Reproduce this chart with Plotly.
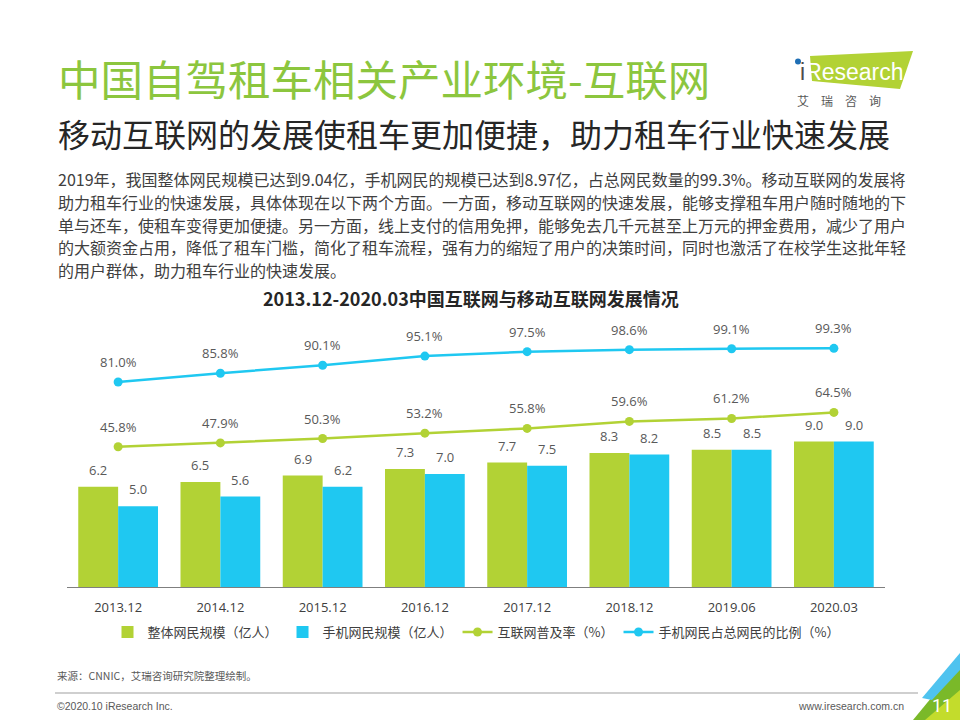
import plotly.graph_objects as go

# ---------------- data ----------------
categories = ["2013.12", "2014.12", "2015.12", "2016.12", "2017.12", "2018.12", "2019.06", "2020.03"]
netizens = [6.2, 6.5, 6.9, 7.3, 7.7, 8.3, 8.5, 9.0]          # 整体网民规模（亿人）
mobile_netizens = [5.0, 5.6, 6.2, 7.0, 7.5, 8.2, 8.5, 9.0]   # 手机网民规模（亿人）
penetration = [45.8, 47.9, 50.3, 53.2, 55.8, 59.6, 61.2, 64.5]   # 互联网普及率（%）
mobile_share = [81.0, 85.8, 90.1, 95.1, 97.5, 98.6, 99.1, 99.3]  # 手机网民占总网民的比例（%）

series_names = ["整体网民规模（亿人）", "手机网民规模（亿人）", "互联网普及率（%）", "手机网民占总网民的比例（%）"]

title = "中国自驾租车相关产业环境-互联网"
subtitle = "移动互联网的发展使租车更加便捷，助力租车行业快速发展"
body_lines = [
    "2019年，我国整体网民规模已达到9.04亿，手机网民的规模已达到8.97亿，占总网民数量的99.3%。移动互联网的发展将",
    "助力租车行业的快速发展，具体体现在以下两个方面。一方面，移动互联网的快速发展，能够支撑租车用户随时随地的下",
    "单与还车，使租车变得更加便捷。另一方面，线上支付的信用免押，能够免去几千元甚至上万元的押金费用，减少了用户",
    "的大额资金占用，降低了租车门槛，简化了租车流程，强有力的缩短了用户的决策时间，同时也激活了在校学生这批年轻",
    "的用户群体，助力租车行业的快速发展。",
]
chart_title = "2013.12-2020.03中国互联网与移动互联网发展情况"
source_text = "来源：CNNIC，艾瑞咨询研究院整理绘制。"
footer_left = "©2020.10 iResearch Inc."
footer_right = "www.iresearch.com.cn"
page_no = "11"

# ---------------- style ----------------
GREEN = "#b2d235"
BLUE = "#1fc8f1"
TITLE_GREEN = "#8cc63e"
LABEL = "#595959"
FONT = "Open Sans, Noto Sans CJK SC, sans-serif"
CJK = "Noto Sans CJK SC, sans-serif"

W, H = 960, 720
L, R, T, B = 67, 885, 325, 587  # plot area in pixels


def px(x):
    return (x - L) / (R - L)


def py(y):
    return (B - y) / (B - T)


fig = go.Figure()
fig.add_trace(go.Bar(x=categories, y=netizens, name=series_names[0], marker_color=GREEN,
                     marker_line_width=0))
fig.add_trace(go.Bar(x=categories, y=mobile_netizens, name=series_names[1], marker_color=BLUE,
                     marker_line_width=0))
fig.add_trace(go.Scatter(x=categories, y=penetration, name=series_names[2], yaxis="y2",
                         mode="lines+markers", line=dict(color=GREEN, width=2.5),
                         marker=dict(size=9, color=GREEN)))
fig.add_trace(go.Scatter(x=categories, y=mobile_share, name=series_names[3], yaxis="y2",
                         mode="lines+markers", line=dict(color=BLUE, width=2.5),
                         marker=dict(size=9, color=BLUE)))

ann = []
for i, v in enumerate(netizens):
    ann.append(dict(x=i, y=v, xref="x", yref="y", text=f"{v:.1f}", showarrow=False,
                    xshift=-20, yshift=17, font=dict(size=13, color=LABEL, family=FONT)))
for i, v in enumerate(mobile_netizens):
    ann.append(dict(x=i, y=v, xref="x", yref="y", text=f"{v:.1f}", showarrow=False,
                    xshift=20, yshift=17, font=dict(size=13, color=LABEL, family=FONT)))
for i, v in enumerate(penetration):
    ann.append(dict(x=i, y=v, xref="x", yref="y2", text=f"{v:.1f}%", showarrow=False,
                    yshift=20, font=dict(size=13, color=LABEL, family=FONT)))
for i, v in enumerate(mobile_share):
    ann.append(dict(x=i, y=v, xref="x", yref="y2", text=f"{v:.1f}%", showarrow=False,
                    yshift=20, font=dict(size=13, color=LABEL, family=FONT)))

# page texts
ann.append(dict(x=px(56), y=py(78), xref="paper", yref="paper", text=title, showarrow=False,
                xanchor="left", yanchor="middle", font=dict(size=42.5, color=TITLE_GREEN, family=CJK)))
ann.append(dict(x=px(56), y=py(133), xref="paper", yref="paper", text=subtitle, showarrow=False,
                xanchor="left", yanchor="middle", font=dict(size=32, color="#262626", family=CJK)))
for i, line in enumerate(body_lines):
    ann.append(dict(x=px(56), y=py(179 + i * 22.8), xref="paper", yref="paper", text=line,
                    showarrow=False, xanchor="left", yanchor="middle",
                    font=dict(size=16, color="#404040", family=CJK)))
ann.append(dict(x=px(471), y=py(298), xref="paper", yref="paper", text=f"<b>{chart_title}</b>",
                showarrow=False, xanchor="center", yanchor="middle",
                font=dict(size=18, color="#262626", family=CJK)))
ann.append(dict(x=px(55), y=py(675), xref="paper", yref="paper", text=source_text, showarrow=False,
                xanchor="left", yanchor="middle", font=dict(size=10.5, color="#595959", family=CJK)))
ann.append(dict(x=px(55), y=py(706), xref="paper", yref="paper", text=footer_left, showarrow=False,
                xanchor="left", yanchor="middle", font=dict(size=10.5, color="#595959", family="Liberation Sans Narrow, Liberation Sans, sans-serif")))
ann.append(dict(x=px(906), y=py(706), xref="paper", yref="paper", text=footer_right, showarrow=False,
                xanchor="right", yanchor="middle", font=dict(size=10.5, color="#595959", family="Liberation Sans Narrow, Liberation Sans, sans-serif")))
ann.append(dict(x=px(942), y=py(705), xref="paper", yref="paper", text=page_no, showarrow=False,
                xanchor="center", yanchor="middle", font=dict(size=18, color="white", family="Roboto, sans-serif")))
# logo texts
ann.append(dict(x=px(798), y=py(72), xref="paper", yref="paper", text="<span style='color:#4d4d4d'>i</span>Research",
                showarrow=False, xanchor="left", yanchor="middle",
                font=dict(size=23, color="white", family="Liberation Sans, Arial, sans-serif")))
ann.append(dict(x=px(795), y=py(101), xref="paper", yref="paper", text="艾　瑞　咨　询",
                showarrow=False, xanchor="left", yanchor="middle",
                font=dict(size=12, color="#595959", family=CJK)))

shapes = [
    # footer line
    dict(type="line", xref="paper", yref="paper", x0=px(55), x1=px(918), y0=py(693), y1=py(693),
         line=dict(color="#bfbfbf", width=1.5)),
    # logo parallelogram
    dict(type="path", xref="paper", yref="paper",
         path=f"M {px(810)} {py(56)} L {px(913)} {py(51)} L {px(900)} {py(89)} L {px(812)} {py(81)} Z",
         fillcolor="#b2d235", line=dict(width=0), layer="below"),
    dict(type="circle", xref="paper", yref="paper", x0=px(795), x1=px(801), y0=py(58.5), y1=py(64.5),
         fillcolor="#1f6fb5", line=dict(width=0)),
    # corner decoration
    dict(type="path", xref="paper", yref="paper",
         path=f"M {px(913)} {py(720)} L {px(960)} {py(663)} L {px(960)} {py(720)} Z",
         fillcolor="#7ab929", line=dict(width=0), layer="below"),
    dict(type="path", xref="paper", yref="paper",
         path=f"M {px(922)} {py(698)} L {px(960)} {py(653)} L {px(960)} {py(670)} L {px(932)} {py(700)} Z",
         fillcolor="#4fc3ef", line=dict(width=0), layer="below"),
    dict(type="path", xref="paper", yref="paper",
         path=f"M {px(925)} {py(720)} L {px(960)} {py(690)} L {px(960)} {py(720)} Z",
         fillcolor="#c3dc2c", line=dict(width=0), layer="below"),
]

fig.update_layout(
    width=W, height=H,
    margin=dict(l=L, r=W - R, t=T, b=H - B, pad=0, autoexpand=False),
    paper_bgcolor="white", plot_bgcolor="white",
    barmode="group", bargap=0.22, bargroupgap=0,
    font=dict(family=FONT, size=13, color="#404040"),
    showlegend=True,
    legend=dict(orientation="h", x=0.5, xanchor="center", y=py(632), yanchor="middle",
                font=dict(size=13, color="#404040", family=CJK), traceorder="normal",
                itemwidth=30, bgcolor="rgba(0,0,0,0)"),
    xaxis=dict(type="category", showgrid=False, showline=True, linecolor="#7f7f7f", linewidth=1,
               ticks="", ticklabelstandoff=8, tickfont=dict(size=13, color="#404040", family=FONT),
               zeroline=False),
    yaxis=dict(range=[0, 16.22], visible=False, showgrid=False, zeroline=False),
    yaxis2=dict(range=[-30.4, 112.0], overlaying="y", visible=False, showgrid=False, zeroline=False),
    annotations=ann,
    shapes=shapes,
)

fig.write_html("out.html", config={"displayModeBar": False},
               post_script="document.body.style.margin='0';document.body.style.overflow='hidden';")
